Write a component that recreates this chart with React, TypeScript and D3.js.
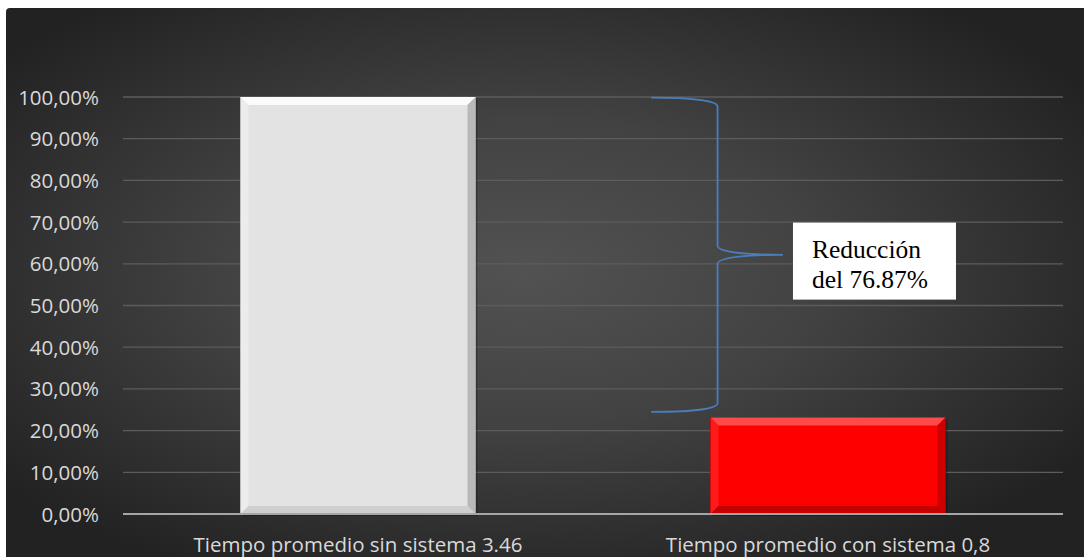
import React from "react";
import * as d3 from "d3";

const categories = ["Tiempo promedio sin sistema 3.46", "Tiempo promedio con sistema 0,8"];
const values = [100, 23.13];
const yTicks = [0, 10, 20, 30, 40, 50, 60, 70, 80, 90, 100];
const annotationLines = ["Reducción", "del 76.87%"];
const braceRange = [24.4, 100];

const W = 1084;
const H = 557;
const M = { left: 123, right: 1063, top: 97, bottom: 514 };

function fmt(v: number) {
  return v.toFixed(2).replace(".", ",") + "%";
}

function Bar({ x, y, w, h, base, top, left, right, bottom, stroke }: any) {
  const b = 8;
  return (
    <g>
      <rect x={x + 2} y={y + 2} width={w} height={h} fill="rgba(0,0,0,0.25)" />
      <rect x={x} y={y} width={w} height={h} fill={base} stroke={stroke} strokeWidth={stroke ? 0.8 : 0} />
      <polygon points={`${x},${y} ${x + w},${y} ${x + w - b},${y + b} ${x + b},${y + b}`} fill={top} />
      <polygon points={`${x},${y} ${x + b},${y + b} ${x + b},${y + h - b} ${x},${y + h}`} fill={left} />
      <polygon points={`${x + w},${y} ${x + w},${y + h} ${x + w - b},${y + h - b} ${x + w - b},${y + b}`} fill={right} />
      <polygon points={`${x},${y + h} ${x + w},${y + h} ${x + w - b},${y + h - b} ${x + b},${y + h - b}`} fill={bottom} />
    </g>
  );
}

export default function App() {
  const x = d3.scaleBand<string>().domain(categories).range([M.left, M.right]).paddingInner(0.5).paddingOuter(0.25);
  const y = d3.scaleLinear().domain([0, 100]).range([M.bottom, M.top]);

  const styles = [
    { base: "#e3e3e3", top: "#fbfbfb", left: "#ececec", right: "#b9b9b9", bottom: "#cfcfcf", stroke: null },
    { base: "#ff0000", top: "#ff4a4a", left: "#ff1a1a", right: "#cc0000", bottom: "#c40000", stroke: "#8a0000" },
  ];

  const plotW = M.right - M.left;
  const bx0 = M.left + plotW * 0.562;
  const bx1 = M.left + plotW * 0.6325;
  const bx2 = M.left + plotW * 0.7021;
  const yt = y(braceRange[1]) + 0.7;
  const yb = y(braceRange[0]) - 0.3;
  const ym = (yt + yb) / 2;
  const c = 9;
  const brace = `M${bx0},${yt} C${bx0 + 40},${yt} ${bx1},${yt + 3} ${bx1},${yt + c}
    L${bx1},${ym - c} C${bx1},${ym - 2} ${bx1 + 35},${ym} ${bx2},${ym}
    C${bx1 + 35},${ym} ${bx1},${ym + 2} ${bx1},${ym + c}
    L${bx1},${yb - c} C${bx1},${yb - 3} ${bx0 + 40},${yb} ${bx0},${yb}`;

  const boxX = bx2 + 10;
  const boxY = y(70) + 0.5;
  const boxW = 163;
  const boxH = 77;

  return (
    <svg width={W} height={H} style={{ position: "absolute", left: 0, top: 0 }}>
      <defs>
        <radialGradient id="bg" cx="48%" cy="48%" r="62%">
          <stop offset="0%" stopColor="#525252" />
          <stop offset="45%" stopColor="#424242" />
          <stop offset="100%" stopColor="#222222" />
        </radialGradient>
      </defs>
      <rect x={0} y={0} width={W} height={H} fill="#ffffff" />
      <path d={`M6,${8 + 4} Q6,8 ${6 + 4},8 L${W},8 L${W},${H} L6,${H} Z`} fill="url(#bg)" />

      {yTicks.map((t) => (
        <g key={t}>
          {t > 0 && (
            <line x1={M.left} x2={M.right} y1={y(t)} y2={y(t)} stroke="#5c5c5c" strokeWidth={1.3} />
          )}
          <text
            x={99}
            y={y(t) + 7.5}
            textAnchor="end"
            fontFamily="'Open Sans', sans-serif"
            fontSize={20.5}
            fill="#d9d9d9"
          >
            {fmt(t)}
          </text>
        </g>
      ))}

      {categories.map((cat, i) => {
        const bx = x(cat)!;
        const by = y(values[i]);
        return (
          <Bar key={cat} x={bx} y={by} w={x.bandwidth()} h={y(0) - by} {...styles[i]} />
        );
      })}

      <line x1={M.left} x2={M.right} y1={y(0)} y2={y(0)} stroke="#a6a6a6" strokeWidth={2.2} />

      {categories.map((cat) => (
        <text
          key={cat}
          x={x(cat)! + x.bandwidth() / 2}
          y={552}
          textAnchor="middle"
          fontFamily="'Open Sans', sans-serif"
          fontSize={20.5}
          fill="#d9d9d9"
        >
          {cat}
        </text>
      ))}

      <path d={brace} fill="none" stroke="#4a7ebb" strokeWidth={1.8} />

      <rect x={boxX} y={boxY} width={boxW} height={boxH} fill="#ffffff" />
      {annotationLines.map((l, i) => (
        <text
          key={l}
          x={boxX + 19}
          y={boxY + 35 + i * 30}
          fontFamily="'Liberation Serif', 'Times New Roman', serif"
          fontSize={25.5}
          fill="#000000"
        >
          {l}
        </text>
      ))}
    </svg>
  );
}
